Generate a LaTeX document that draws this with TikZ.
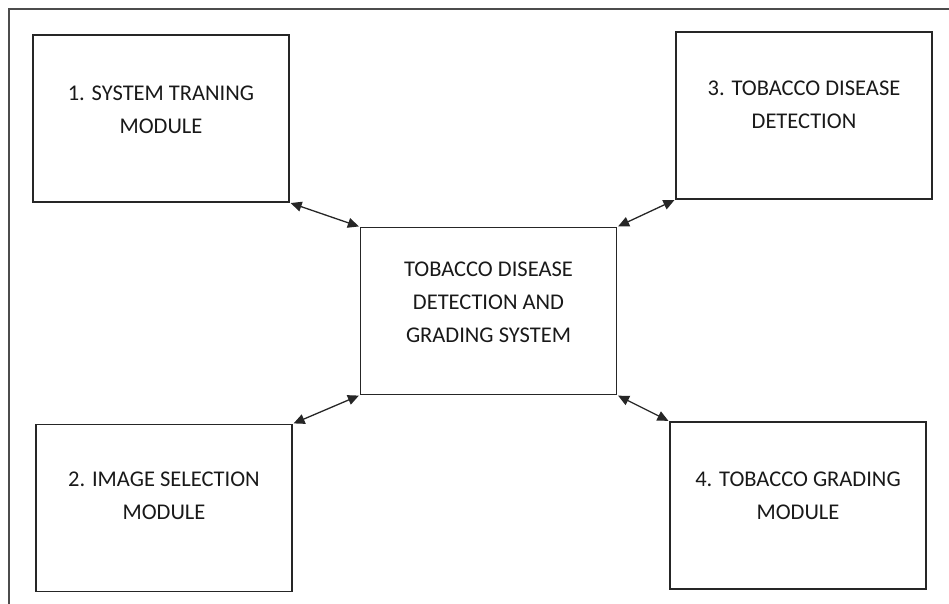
\documentclass[tikz,border=0pt]{standalone}
\usepackage{fontspec}
\setmainfont{Carlito}
\usetikzlibrary{arrows.meta}

\begin{document}
\begin{tikzpicture}[x=1pt, y=-1pt,
    modbox/.style={draw=black!85, line width=1.4pt, inner sep=0pt,
      minimum width=256pt, minimum height=167pt},
    modtext/.style={align=center, text=black!90,
      font=\fontsize{22.5}{33}\selectfont},
    link/.style={{Triangle[length=11pt,width=10pt]}-{Triangle[length=11pt,width=10pt]},
      draw=black!85, line width=1.3pt, shorten <=1pt, shorten >=1pt}]
  \useasboundingbox (0,0) rectangle (949,604);
  % frame (only top and left edges are visible)
  \draw[black!70, line width=1.3pt] (9,604) -- (9,9) -- (949,9);
  % boxes
  \node[modbox] (train) at (161,118.5) {};
  \node[modbox] (core) at (488.5,311) {};
  \node[modbox] (detect) at (804,115.5) {};
  \node[modbox] (select) at (164,508) {};
  \node[modbox] (grade) at (798,505.5) {};
  % texts
  \node[modtext] (train-t) at ([yshift=9pt]train.center) {1. SYSTEM TRANING\\MODULE};
  \node[modtext] (core-t) at ([yshift=9pt]core.center) {TOBACCO DISEASE\\DETECTION AND\\GRADING SYSTEM};
  \node[modtext] (detect-t) at ([yshift=11pt]detect.center) {3. TOBACCO DISEASE\\DETECTION};
  \node[modtext] (select-t) at ([yshift=12pt]select.center) {2. IMAGE SELECTION\\MODULE};
  \node[modtext] (grade-t) at ([yshift=10pt]grade.center) {4. TOBACCO GRADING\\MODULE};
  % links
  \draw[link] (train.south east) -- (core.north west);
  \draw[link] (core.north east) -- (detect.south west);
  \draw[link] (core.south west) -- (select.north east);
  \draw[link] (core.south east) -- (grade.north west);
\end{tikzpicture}
\end{document}
